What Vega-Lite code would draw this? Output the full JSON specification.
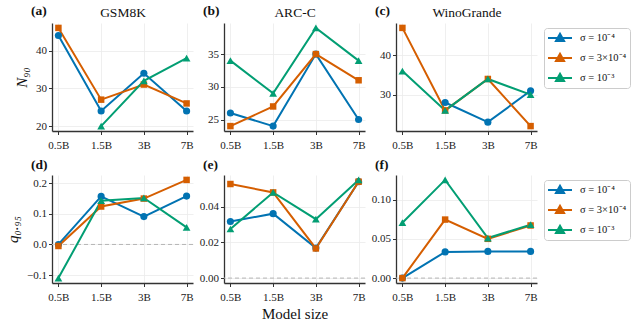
{
  "$schema": "https://vega.github.io/schema/vega-lite/v6.json",
  "background": "white",
  "padding": {"left": 5, "top": 4, "right": 92, "bottom": 2},
  "data": {"values": [
    {"panel":"a","model":"0.5B","sigma":"σ = 10⁻⁴","value":44},
    {"panel":"a","model":"1.5B","sigma":"σ = 10⁻⁴","value":24},
    {"panel":"a","model":"3B","sigma":"σ = 10⁻⁴","value":34},
    {"panel":"a","model":"7B","sigma":"σ = 10⁻⁴","value":24},
    {"panel":"a","model":"0.5B","sigma":"σ = 3×10⁻⁴","value":46},
    {"panel":"a","model":"1.5B","sigma":"σ = 3×10⁻⁴","value":27},
    {"panel":"a","model":"3B","sigma":"σ = 3×10⁻⁴","value":31},
    {"panel":"a","model":"7B","sigma":"σ = 3×10⁻⁴","value":26},
    {"panel":"a","model":"1.5B","sigma":"σ = 10⁻³","value":20},
    {"panel":"a","model":"3B","sigma":"σ = 10⁻³","value":32},
    {"panel":"a","model":"7B","sigma":"σ = 10⁻³","value":38},
    {"panel":"b","model":"0.5B","sigma":"σ = 10⁻⁴","value":26},
    {"panel":"b","model":"1.5B","sigma":"σ = 10⁻⁴","value":24},
    {"panel":"b","model":"3B","sigma":"σ = 10⁻⁴","value":35},
    {"panel":"b","model":"7B","sigma":"σ = 10⁻⁴","value":25},
    {"panel":"b","model":"0.5B","sigma":"σ = 3×10⁻⁴","value":24},
    {"panel":"b","model":"1.5B","sigma":"σ = 3×10⁻⁴","value":27},
    {"panel":"b","model":"3B","sigma":"σ = 3×10⁻⁴","value":35},
    {"panel":"b","model":"7B","sigma":"σ = 3×10⁻⁴","value":31},
    {"panel":"b","model":"0.5B","sigma":"σ = 10⁻³","value":34},
    {"panel":"b","model":"1.5B","sigma":"σ = 10⁻³","value":29},
    {"panel":"b","model":"3B","sigma":"σ = 10⁻³","value":39},
    {"panel":"b","model":"7B","sigma":"σ = 10⁻³","value":34},
    {"panel":"c","model":"1.5B","sigma":"σ = 10⁻⁴","value":28},
    {"panel":"c","model":"3B","sigma":"σ = 10⁻⁴","value":23},
    {"panel":"c","model":"7B","sigma":"σ = 10⁻⁴","value":31},
    {"panel":"c","model":"0.5B","sigma":"σ = 3×10⁻⁴","value":47},
    {"panel":"c","model":"1.5B","sigma":"σ = 3×10⁻⁴","value":26},
    {"panel":"c","model":"3B","sigma":"σ = 3×10⁻⁴","value":34},
    {"panel":"c","model":"7B","sigma":"σ = 3×10⁻⁴","value":22},
    {"panel":"c","model":"0.5B","sigma":"σ = 10⁻³","value":36},
    {"panel":"c","model":"1.5B","sigma":"σ = 10⁻³","value":26},
    {"panel":"c","model":"3B","sigma":"σ = 10⁻³","value":34},
    {"panel":"c","model":"7B","sigma":"σ = 10⁻³","value":30},
    {"panel":"d","model":"0.5B","sigma":"σ = 10⁻⁴","value":0.0},
    {"panel":"d","model":"1.5B","sigma":"σ = 10⁻⁴","value":0.157},
    {"panel":"d","model":"3B","sigma":"σ = 10⁻⁴","value":0.091},
    {"panel":"d","model":"7B","sigma":"σ = 10⁻⁴","value":0.158},
    {"panel":"d","model":"0.5B","sigma":"σ = 3×10⁻⁴","value":-0.005},
    {"panel":"d","model":"1.5B","sigma":"σ = 3×10⁻⁴","value":0.124},
    {"panel":"d","model":"3B","sigma":"σ = 3×10⁻⁴","value":0.15},
    {"panel":"d","model":"7B","sigma":"σ = 3×10⁻⁴","value":0.211},
    {"panel":"d","model":"0.5B","sigma":"σ = 10⁻³","value":-0.11},
    {"panel":"d","model":"1.5B","sigma":"σ = 10⁻³","value":0.143},
    {"panel":"d","model":"3B","sigma":"σ = 10⁻³","value":0.152},
    {"panel":"d","model":"7B","sigma":"σ = 10⁻³","value":0.056},
    {"panel":"e","model":"0.5B","sigma":"σ = 10⁻⁴","value":0.0317},
    {"panel":"e","model":"1.5B","sigma":"σ = 10⁻⁴","value":0.0361},
    {"panel":"e","model":"3B","sigma":"σ = 10⁻⁴","value":0.0168},
    {"panel":"e","model":"7B","sigma":"σ = 10⁻⁴","value":0.054},
    {"panel":"e","model":"0.5B","sigma":"σ = 3×10⁻⁴","value":0.0527},
    {"panel":"e","model":"1.5B","sigma":"σ = 3×10⁻⁴","value":0.048},
    {"panel":"e","model":"3B","sigma":"σ = 3×10⁻⁴","value":0.0166},
    {"panel":"e","model":"7B","sigma":"σ = 3×10⁻⁴","value":0.054},
    {"panel":"e","model":"0.5B","sigma":"σ = 10⁻³","value":0.0275},
    {"panel":"e","model":"1.5B","sigma":"σ = 10⁻³","value":0.048},
    {"panel":"e","model":"3B","sigma":"σ = 10⁻³","value":0.033},
    {"panel":"e","model":"7B","sigma":"σ = 10⁻³","value":0.055},
    {"panel":"f","model":"0.5B","sigma":"σ = 10⁻⁴","value":0.0},
    {"panel":"f","model":"1.5B","sigma":"σ = 10⁻⁴","value":0.0333},
    {"panel":"f","model":"3B","sigma":"σ = 10⁻⁴","value":0.034},
    {"panel":"f","model":"7B","sigma":"σ = 10⁻⁴","value":0.034},
    {"panel":"f","model":"0.5B","sigma":"σ = 3×10⁻⁴","value":0.0},
    {"panel":"f","model":"1.5B","sigma":"σ = 3×10⁻⁴","value":0.0745},
    {"panel":"f","model":"3B","sigma":"σ = 3×10⁻⁴","value":0.05},
    {"panel":"f","model":"7B","sigma":"σ = 3×10⁻⁴","value":0.067},
    {"panel":"f","model":"0.5B","sigma":"σ = 10⁻³","value":0.0705},
    {"panel":"f","model":"1.5B","sigma":"σ = 10⁻³","value":0.125},
    {"panel":"f","model":"3B","sigma":"σ = 10⁻³","value":0.051},
    {"panel":"f","model":"7B","sigma":"σ = 10⁻³","value":0.068}
  ]},
  "columns": 3,
  "spacing": {"row": 44, "column": 31},
  "bounds": "flush",
  "resolve": {"scale": {"color": "independent", "shape": "independent", "size": "independent"}, "legend": {"color": "independent"}},
  "concat": [
        {
          "width": 141, "height": 108,
          "title": {"text": "(a)", "dy": 16.5},
          "layer": [
            {
              "transform": [{"filter": "datum.panel === 'a'"}],
              "mark": {"type": "line", "strokeWidth": 2},
              "encoding": {
                "x": {"field": "model", "type": "ordinal", "sort": ["0.5B","1.5B","3B","7B"], "scale": {"type": "point", "padding": 0.15}, "axis": {"title": null, "labelAngle": 0, "grid": true, "labelPadding": 5}},
                "y": {"field": "value", "type": "quantitative", "scale": {"domain": [18.7, 47.3], "nice": false, "zero": false}, "axis": {"title": "N₉₀", "values": [20, 30, 40], "format": "d", "grid": true, "titleFontStyle": "italic", "titleFontSize": 15, "titlePadding": 6}},
                "color": {"field": "sigma", "type": "nominal", "scale": {"domain": ["σ = 10⁻⁴","σ = 3×10⁻⁴","σ = 10⁻³"], "range": ["#0173B2","#D55E00","#029E73"]},
                  "legend": {"title": null, "orient": "none", "legendX": 492, "legendY": 5, "symbolSize": 144, "labelOffset": 19, "rowPadding": 4, "padding": 3, "strokeColor": "#cccccc", "fillColor": "#ffffff", "cornerRadius": 3, "labelFontSize": 10.5, "labelColor": "#111111",
                    "encode": {"symbols": {"update": {
                      "shape": {"condition": [{"test": "datum.index === 0 || datum.value === 'σ = 10⁻⁴'", "value": "M-1,0H3M0.42,0A0.58,0.58 0 1,0 1.58,0A0.58,0.58 0 1,0 0.42,0Z"}, {"test": "datum.index === 1 || datum.value === 'σ = 3×10⁻⁴'", "value": "M-1,0H3M0.42,-0.58H1.58V0.58H0.42Z"}], "value": "M-1,0H3M1,-0.7L1.68,0.5H0.32Z"},
                      "strokeWidth": {"value": 2},
                      "opacity": {"value": 1}
                    }}}}}
              }
            },
            {
              "transform": [{"filter": "datum.panel === 'a'"}],
              "mark": {"type": "point", "filled": true, "opacity": 1},
              "encoding": {
                "x": {"field": "model", "type": "ordinal", "sort": ["0.5B","1.5B","3B","7B"], "scale": {"type": "point", "padding": 0.15}, "axis": {"orient": "top", "title": "GSM8K", "labels": false, "ticks": false, "domain": false, "grid": false, "titleFontSize": 13.5, "titlePadding": 7, "titleBaseline": "alphabetic"}},
                "y": {"field": "value", "type": "quantitative", "scale": {"domain": [18.7, 47.3], "nice": false, "zero": false}, "axis": {"title": "N₉₀", "values": [20, 30, 40], "format": "d", "grid": true, "titleFontStyle": "italic", "titleFontSize": 15, "titlePadding": 6}},
                "color": {"field": "sigma", "type": "nominal", "scale": {"domain": ["σ = 10⁻⁴","σ = 3×10⁻⁴","σ = 10⁻³"], "range": ["#0173B2","#D55E00","#029E73"]},
                  "legend": {"title": null, "orient": "none", "legendX": 492, "legendY": 5, "symbolSize": 144, "labelOffset": 19, "rowPadding": 4, "padding": 3, "strokeColor": "#cccccc", "fillColor": "#ffffff", "cornerRadius": 3, "labelFontSize": 10.5, "labelColor": "#111111",
                    "encode": {"symbols": {"update": {
                      "shape": {"condition": [{"test": "datum.index === 0 || datum.value === 'σ = 10⁻⁴'", "value": "M-1,0H3M0.42,0A0.58,0.58 0 1,0 1.58,0A0.58,0.58 0 1,0 0.42,0Z"}, {"test": "datum.index === 1 || datum.value === 'σ = 3×10⁻⁴'", "value": "M-1,0H3M0.42,-0.58H1.58V0.58H0.42Z"}], "value": "M-1,0H3M1,-0.7L1.68,0.5H0.32Z"},
                      "strokeWidth": {"value": 2},
                      "opacity": {"value": 1}
                    }}}}},
                "shape": {"field": "sigma", "type": "nominal", "scale": {"domain": ["σ = 10⁻³","σ = 10⁻⁴","σ = 3×10⁻⁴"], "range": ["triangle-up","circle","square"]}, "legend": null},
                "size": {"field": "sigma", "type": "nominal", "scale": {"domain": ["σ = 10⁻³","σ = 10⁻⁴","σ = 3×10⁻⁴"], "range": [60, 42, 46]}, "legend": null}
              }
            }
          ],
          "resolve": {"axis": {"x": "independent"}}
        },
        {
          "width": 141, "height": 108,
          "title": {"text": "(b)", "dy": 16.5},
          "layer": [
            {
              "transform": [{"filter": "datum.panel === 'b'"}],
              "mark": {"type": "line", "strokeWidth": 2},
              "encoding": {
                "x": {"field": "model", "type": "ordinal", "sort": ["0.5B","1.5B","3B","7B"], "scale": {"type": "point", "padding": 0.15}, "axis": {"title": null, "labelAngle": 0, "grid": true, "labelPadding": 5}},
                "y": {"field": "value", "type": "quantitative", "scale": {"domain": [23.25, 39.75], "nice": false, "zero": false}, "axis": {"title": null, "values": [25, 30, 35], "format": "d", "grid": true}},
                "color": {"field": "sigma", "type": "nominal", "scale": {"domain": ["σ = 10⁻⁴","σ = 3×10⁻⁴","σ = 10⁻³"], "range": ["#0173B2","#D55E00","#029E73"]}, "legend": null}
              }
            },
            {
              "transform": [{"filter": "datum.panel === 'b'"}],
              "mark": {"type": "point", "filled": true, "opacity": 1},
              "encoding": {
                "x": {"field": "model", "type": "ordinal", "sort": ["0.5B","1.5B","3B","7B"], "scale": {"type": "point", "padding": 0.15}, "axis": {"orient": "top", "title": "ARC-C", "labels": false, "ticks": false, "domain": false, "grid": false, "titleFontSize": 13.5, "titlePadding": 7, "titleBaseline": "alphabetic"}},
                "y": {"field": "value", "type": "quantitative", "scale": {"domain": [23.25, 39.75], "nice": false, "zero": false}, "axis": {"title": null, "values": [25, 30, 35], "format": "d", "grid": true}},
                "color": {"field": "sigma", "type": "nominal", "scale": {"domain": ["σ = 10⁻⁴","σ = 3×10⁻⁴","σ = 10⁻³"], "range": ["#0173B2","#D55E00","#029E73"]}, "legend": null},
                "shape": {"field": "sigma", "type": "nominal", "scale": {"domain": ["σ = 10⁻³","σ = 10⁻⁴","σ = 3×10⁻⁴"], "range": ["triangle-up","circle","square"]}, "legend": null},
                "size": {"field": "sigma", "type": "nominal", "scale": {"domain": ["σ = 10⁻³","σ = 10⁻⁴","σ = 3×10⁻⁴"], "range": [60, 42, 46]}, "legend": null}
              }
            }
          ],
          "resolve": {"axis": {"x": "independent"}}
        },
        {
          "width": 141, "height": 108,
          "title": {"text": "(c)", "dy": 16.5},
          "layer": [
            {
              "transform": [{"filter": "datum.panel === 'c'"}],
              "mark": {"type": "line", "strokeWidth": 2},
              "encoding": {
                "x": {"field": "model", "type": "ordinal", "sort": ["0.5B","1.5B","3B","7B"], "scale": {"type": "point", "padding": 0.15}, "axis": {"title": null, "labelAngle": 0, "grid": true, "labelPadding": 5}},
                "y": {"field": "value", "type": "quantitative", "scale": {"domain": [20.75, 48.25], "nice": false, "zero": false}, "axis": {"title": null, "values": [30, 40], "format": "d", "grid": true}},
                "color": {"field": "sigma", "type": "nominal", "scale": {"domain": ["σ = 10⁻⁴","σ = 3×10⁻⁴","σ = 10⁻³"], "range": ["#0173B2","#D55E00","#029E73"]}, "legend": null}
              }
            },
            {
              "transform": [{"filter": "datum.panel === 'c'"}],
              "mark": {"type": "point", "filled": true, "opacity": 1},
              "encoding": {
                "x": {"field": "model", "type": "ordinal", "sort": ["0.5B","1.5B","3B","7B"], "scale": {"type": "point", "padding": 0.15}, "axis": {"orient": "top", "title": "WinoGrande", "labels": false, "ticks": false, "domain": false, "grid": false, "titleFontSize": 13.5, "titlePadding": 7, "titleBaseline": "alphabetic"}},
                "y": {"field": "value", "type": "quantitative", "scale": {"domain": [20.75, 48.25], "nice": false, "zero": false}, "axis": {"title": null, "values": [30, 40], "format": "d", "grid": true}},
                "color": {"field": "sigma", "type": "nominal", "scale": {"domain": ["σ = 10⁻⁴","σ = 3×10⁻⁴","σ = 10⁻³"], "range": ["#0173B2","#D55E00","#029E73"]}, "legend": null},
                "shape": {"field": "sigma", "type": "nominal", "scale": {"domain": ["σ = 10⁻³","σ = 10⁻⁴","σ = 3×10⁻⁴"], "range": ["triangle-up","circle","square"]}, "legend": null},
                "size": {"field": "sigma", "type": "nominal", "scale": {"domain": ["σ = 10⁻³","σ = 10⁻⁴","σ = 3×10⁻⁴"], "range": [60, 42, 46]}, "legend": null}
              }
            }
          ],
          "resolve": {"axis": {"x": "independent"}}
        },
        {
          "width": 141, "height": 108,
          "title": {"text": "(d)"},
          "layer": [
            {
              "data": {"values": [{"zero": 0}]},
              "mark": {"type": "rule", "color": "#b5b5b5", "strokeDash": [4, 3], "strokeWidth": 1},
              "encoding": {"y": {"field": "zero", "type": "quantitative", "scale": {"domain": [-0.126, 0.227], "nice": false, "zero": false}, "axis": {"title": "q₀.₉₅", "values": [-0.1, 0, 0.1, 0.2], "format": ".1f", "grid": true, "titleFontStyle": "italic", "titleFontSize": 15, "titlePadding": 6}}}
            },
            {
              "transform": [{"filter": "datum.panel === 'd'"}],
              "mark": {"type": "line", "strokeWidth": 2},
              "encoding": {
                "x": {"field": "model", "type": "ordinal", "sort": ["0.5B","1.5B","3B","7B"], "scale": {"type": "point", "padding": 0.15}, "axis": {"title": null, "labelAngle": 0, "grid": true, "labelPadding": 5}},
                "y": {"field": "value", "type": "quantitative", "scale": {"domain": [-0.126, 0.227], "nice": false, "zero": false}, "axis": {"title": "q₀.₉₅", "values": [-0.1, 0, 0.1, 0.2], "format": ".1f", "grid": true, "titleFontStyle": "italic", "titleFontSize": 15, "titlePadding": 6}},
                "color": {"field": "sigma", "type": "nominal", "scale": {"domain": ["σ = 10⁻⁴","σ = 3×10⁻⁴","σ = 10⁻³"], "range": ["#0173B2","#D55E00","#029E73"]},
                  "legend": {"title": null, "orient": "none", "legendX": 492, "legendY": 5, "symbolSize": 144, "labelOffset": 19, "rowPadding": 4, "padding": 3, "strokeColor": "#cccccc", "fillColor": "#ffffff", "cornerRadius": 3, "labelFontSize": 10.5, "labelColor": "#111111",
                    "encode": {"symbols": {"update": {
                      "shape": {"condition": [{"test": "datum.index === 0 || datum.value === 'σ = 10⁻⁴'", "value": "M-1,0H3M0.42,0A0.58,0.58 0 1,0 1.58,0A0.58,0.58 0 1,0 0.42,0Z"}, {"test": "datum.index === 1 || datum.value === 'σ = 3×10⁻⁴'", "value": "M-1,0H3M0.42,-0.58H1.58V0.58H0.42Z"}], "value": "M-1,0H3M1,-0.7L1.68,0.5H0.32Z"},
                      "strokeWidth": {"value": 2},
                      "opacity": {"value": 1}
                    }}}}}
              }
            },
            {
              "transform": [{"filter": "datum.panel === 'd'"}],
              "mark": {"type": "point", "filled": true, "opacity": 1},
              "encoding": {
                "x": {"field": "model", "type": "ordinal", "sort": ["0.5B","1.5B","3B","7B"], "scale": {"type": "point", "padding": 0.15}, "axis": {"title": null, "labelAngle": 0, "grid": true, "labelPadding": 5}},
                "y": {"field": "value", "type": "quantitative", "scale": {"domain": [-0.126, 0.227], "nice": false, "zero": false}, "axis": {"title": "q₀.₉₅", "values": [-0.1, 0, 0.1, 0.2], "format": ".1f", "grid": true, "titleFontStyle": "italic", "titleFontSize": 15, "titlePadding": 6}},
                "color": {"field": "sigma", "type": "nominal", "scale": {"domain": ["σ = 10⁻⁴","σ = 3×10⁻⁴","σ = 10⁻³"], "range": ["#0173B2","#D55E00","#029E73"]},
                  "legend": {"title": null, "orient": "none", "legendX": 492, "legendY": 5, "symbolSize": 144, "labelOffset": 19, "rowPadding": 4, "padding": 3, "strokeColor": "#cccccc", "fillColor": "#ffffff", "cornerRadius": 3, "labelFontSize": 10.5, "labelColor": "#111111",
                    "encode": {"symbols": {"update": {
                      "shape": {"condition": [{"test": "datum.index === 0 || datum.value === 'σ = 10⁻⁴'", "value": "M-1,0H3M0.42,0A0.58,0.58 0 1,0 1.58,0A0.58,0.58 0 1,0 0.42,0Z"}, {"test": "datum.index === 1 || datum.value === 'σ = 3×10⁻⁴'", "value": "M-1,0H3M0.42,-0.58H1.58V0.58H0.42Z"}], "value": "M-1,0H3M1,-0.7L1.68,0.5H0.32Z"},
                      "strokeWidth": {"value": 2},
                      "opacity": {"value": 1}
                    }}}}},
                "shape": {"field": "sigma", "type": "nominal", "scale": {"domain": ["σ = 10⁻³","σ = 10⁻⁴","σ = 3×10⁻⁴"], "range": ["triangle-up","circle","square"]}, "legend": null},
                "size": {"field": "sigma", "type": "nominal", "scale": {"domain": ["σ = 10⁻³","σ = 10⁻⁴","σ = 3×10⁻⁴"], "range": [60, 42, 46]}, "legend": null}
              }
            }
          ]
        },
        {
          "width": 141, "height": 108,
          "title": {"text": "(e)"},
          "layer": [
            {
              "data": {"values": [{"zero": 0}]},
              "mark": {"type": "rule", "color": "#b5b5b5", "strokeDash": [4, 3], "strokeWidth": 1},
              "encoding": {"y": {"field": "zero", "type": "quantitative", "scale": {"domain": [-0.00275, 0.05775], "nice": false, "zero": false}, "axis": {"title": null, "values": [0, 0.02, 0.04], "format": ".2f", "grid": true}}}
            },
            {
              "transform": [{"filter": "datum.panel === 'e'"}],
              "mark": {"type": "line", "strokeWidth": 2},
              "encoding": {
                "x": {"field": "model", "type": "ordinal", "sort": ["0.5B","1.5B","3B","7B"], "scale": {"type": "point", "padding": 0.15}, "axis": {"title": "Model size", "titleFontSize": 15, "titlePadding": 4, "labelAngle": 0, "grid": true, "labelPadding": 5}},
                "y": {"field": "value", "type": "quantitative", "scale": {"domain": [-0.00275, 0.05775], "nice": false, "zero": false}, "axis": {"title": null, "values": [0, 0.02, 0.04], "format": ".2f", "grid": true}},
                "color": {"field": "sigma", "type": "nominal", "scale": {"domain": ["σ = 10⁻⁴","σ = 3×10⁻⁴","σ = 10⁻³"], "range": ["#0173B2","#D55E00","#029E73"]}, "legend": null}
              }
            },
            {
              "transform": [{"filter": "datum.panel === 'e'"}],
              "mark": {"type": "point", "filled": true, "opacity": 1},
              "encoding": {
                "x": {"field": "model", "type": "ordinal", "sort": ["0.5B","1.5B","3B","7B"], "scale": {"type": "point", "padding": 0.15}, "axis": {"title": "Model size", "titleFontSize": 15, "titlePadding": 4, "labelAngle": 0, "grid": true, "labelPadding": 5}},
                "y": {"field": "value", "type": "quantitative", "scale": {"domain": [-0.00275, 0.05775], "nice": false, "zero": false}, "axis": {"title": null, "values": [0, 0.02, 0.04], "format": ".2f", "grid": true}},
                "color": {"field": "sigma", "type": "nominal", "scale": {"domain": ["σ = 10⁻⁴","σ = 3×10⁻⁴","σ = 10⁻³"], "range": ["#0173B2","#D55E00","#029E73"]}, "legend": null},
                "shape": {"field": "sigma", "type": "nominal", "scale": {"domain": ["σ = 10⁻³","σ = 10⁻⁴","σ = 3×10⁻⁴"], "range": ["triangle-up","circle","square"]}, "legend": null},
                "size": {"field": "sigma", "type": "nominal", "scale": {"domain": ["σ = 10⁻³","σ = 10⁻⁴","σ = 3×10⁻⁴"], "range": [60, 42, 46]}, "legend": null}
              }
            }
          ]
        },
        {
          "width": 141, "height": 108,
          "title": {"text": "(f)"},
          "layer": [
            {
              "data": {"values": [{"zero": 0}]},
              "mark": {"type": "rule", "color": "#b5b5b5", "strokeDash": [4, 3], "strokeWidth": 1},
              "encoding": {"y": {"field": "zero", "type": "quantitative", "scale": {"domain": [-0.00625, 0.13125], "nice": false, "zero": false}, "axis": {"title": null, "values": [0, 0.05, 0.1], "format": ".2f", "grid": true}}}
            },
            {
              "transform": [{"filter": "datum.panel === 'f'"}],
              "mark": {"type": "line", "strokeWidth": 2},
              "encoding": {
                "x": {"field": "model", "type": "ordinal", "sort": ["0.5B","1.5B","3B","7B"], "scale": {"type": "point", "padding": 0.15}, "axis": {"title": null, "labelAngle": 0, "grid": true, "labelPadding": 5}},
                "y": {"field": "value", "type": "quantitative", "scale": {"domain": [-0.00625, 0.13125], "nice": false, "zero": false}, "axis": {"title": null, "values": [0, 0.05, 0.1], "format": ".2f", "grid": true}},
                "color": {"field": "sigma", "type": "nominal", "scale": {"domain": ["σ = 10⁻⁴","σ = 3×10⁻⁴","σ = 10⁻³"], "range": ["#0173B2","#D55E00","#029E73"]}, "legend": null}
              }
            },
            {
              "transform": [{"filter": "datum.panel === 'f'"}],
              "mark": {"type": "point", "filled": true, "opacity": 1},
              "encoding": {
                "x": {"field": "model", "type": "ordinal", "sort": ["0.5B","1.5B","3B","7B"], "scale": {"type": "point", "padding": 0.15}, "axis": {"title": null, "labelAngle": 0, "grid": true, "labelPadding": 5}},
                "y": {"field": "value", "type": "quantitative", "scale": {"domain": [-0.00625, 0.13125], "nice": false, "zero": false}, "axis": {"title": null, "values": [0, 0.05, 0.1], "format": ".2f", "grid": true}},
                "color": {"field": "sigma", "type": "nominal", "scale": {"domain": ["σ = 10⁻⁴","σ = 3×10⁻⁴","σ = 10⁻³"], "range": ["#0173B2","#D55E00","#029E73"]}, "legend": null},
                "shape": {"field": "sigma", "type": "nominal", "scale": {"domain": ["σ = 10⁻³","σ = 10⁻⁴","σ = 3×10⁻⁴"], "range": ["triangle-up","circle","square"]}, "legend": null},
                "size": {"field": "sigma", "type": "nominal", "scale": {"domain": ["σ = 10⁻³","σ = 10⁻⁴","σ = 3×10⁻⁴"], "range": [60, 42, 46]}, "legend": null}
              }
            }
          ]
        }
  ],
  "config": {
    "font": "Liberation Serif",
    "view": {"stroke": null},
    "axis": {"labelFont": "Liberation Serif", "labelFontSize": 11, "labelColor": "#222222", "labelPadding": 2, "domainColor": "#333333", "domainWidth": 1.3, "tickColor": "#333333", "tickSize": 3.5, "tickWidth": 1, "gridColor": "#ebebeb", "gridWidth": 0.8, "titleFont": "Liberation Serif", "titleFontWeight": "normal", "titleColor": "#111111"},
    "title": {"font": "Liberation Serif", "fontSize": 13.5, "fontWeight": "bold", "anchor": "start", "frame": "group", "dx": -21, "color": "#111111"},
    "legend": {"labelFont": "Liberation Serif", "labelLimit": 200}
  }
}
